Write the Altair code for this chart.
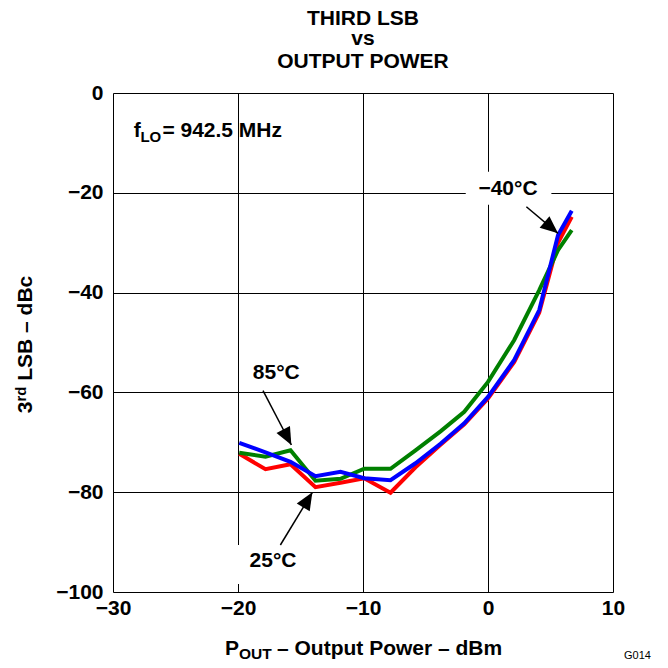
import altair as alt
import pandas as pd

FONT = "Liberation Sans"

# ---- data ----
pout = [-19.9, -17.8, -15.8, -13.8, -11.8, -9.9, -7.8, -5.8, -3.8, -1.9, 0.0, 2.1, 4.1, 5.6, 6.7]
lsb_25 = [-72.3, -75.4, -74.4, -79.0, -78.1, -77.2, -80.1, -75.0, -70.5, -66.4, -61.2, -53.9, -44.0, -30.0, -24.8]
lsb_85 = [-72.1, -72.9, -71.6, -77.7, -77.3, -75.3, -75.3, -71.6, -67.8, -63.9, -57.9, -49.5, -39.5, -31.5, -27.5]
lsb_m40 = [-70.1, -72.0, -73.9, -76.8, -75.9, -77.2, -77.6, -74.2, -70.3, -66.2, -60.9, -53.5, -43.5, -28.5, -23.6]

series_names = ["25°C", "85°C", "−40°C"]
series_values = [lsb_25, lsb_85, lsb_m40]
series_colors = ["#ff0000", "#008000", "#0000ff"]

x_ticks = [-30, -20, -10, 0, 10]
y_ticks = [-100, -80, -60, -40, -20, 0]

# annotation labels (data coordinates)
label_text = ["85°C", "25°C", "−40°C"]
label_x = [-16.94, -17.2, 1.6]
label_y = [-57.4, -95.05, -20.44]
arrow_x1 = [-18.0, -16.61, 3.07]
arrow_y1 = [-59.66, -90.58, -22.79]
arrow_x2 = [-15.73, -14.05, 5.6]
arrow_y2 = [-70.54, -80.02, -28.12]
arrow_angle = [152.4, 31.3, 130.1]
# white boxes behind labels
box_x1 = [-20.5, -1.78]
box_x2 = [-14.1, 5.07]
box_y1 = [-90.6, -15.8]
box_y2 = [-98.4, -22.4]

xs = alt.Scale(domain=[-30, 10], nice=False)
ys = alt.Scale(domain=[-100, 0], nice=False)
xaxis = alt.Axis(values=x_ticks, grid=True, gridColor="black", gridWidth=1, gridOpacity=1,
                 domain=False, ticks=False, labelFont=FONT, labelFontSize=21,
                 labelFontWeight="bold", labelColor="black", labelPadding=5,
                 labelFlush=False, labelOverlap=False, title=None)
yaxis = alt.Axis(values=y_ticks, grid=True, gridColor="black", gridWidth=1, gridOpacity=1,
                 domain=False, ticks=False, labelFont=FONT, labelFontSize=21,
                 labelFontWeight="bold", labelColor="black", labelPadding=10,
                 labelOverlap=False, title=None)

def X(field="x"):
    return alt.X(f"{field}:Q", scale=xs, axis=xaxis)

def Y(field="y"):
    return alt.Y(f"{field}:Q", scale=ys, axis=yaxis)

layers = []

# white label boxes
box_df = pd.DataFrame({"x": box_x1, "x2": box_x2, "y": box_y1, "y2": box_y2})
layers.append(alt.Chart(box_df).mark_rect(color="white", opacity=1).encode(
    x=X(), x2="x2:Q", y=Y(), y2="y2:Q"))

# curves
for name, vals, col in zip(series_names, series_values, series_colors):
    df = pd.DataFrame({"x": pout, "y": vals, "s": name})
    layers.append(alt.Chart(df).mark_line(color=col, strokeWidth=4).encode(x=X(), y=Y()))

# arrows
arr_df = pd.DataFrame({"x": arrow_x1, "y": arrow_y1, "x2": arrow_x2, "y2": arrow_y2})
layers.append(alt.Chart(arr_df).mark_rule(color="black", strokeWidth=1.5).encode(
    x=X(), y=Y(), x2="x2:Q", y2="y2:Q"))
head_path = "M0,0L-0.95,2.2L0.95,2.2Z"
for hx, hy, ang in zip(arrow_x2, arrow_y2, arrow_angle):
    hdf = pd.DataFrame({"x": [hx], "y": [hy]})
    layers.append(alt.Chart(hdf).mark_point(shape=head_path, filled=True, size=256, color="black",
                                             opacity=1, strokeWidth=0, angle=ang).encode(x=X(), y=Y()))

# labels in data coordinates
lab_df = pd.DataFrame({"x": label_x, "y": label_y, "t": label_text})
layers.append(alt.Chart(lab_df).mark_text(font=FONT, fontSize=21, fontWeight="bold", color="black",
                                          align="center", baseline="alphabetic").encode(
    x=X(), y=Y(), text="t:N"))

# f_LO annotation
flo_df = pd.DataFrame({"x": [-28.34, -27.81, -26.05], "y": [-8.88, -9.72, -8.88],
                       "t": ["f", "LO", "= 942.5 MHz"], "sz": [21, 15, 21]})
layers.append(alt.Chart(flo_df).mark_text(font=FONT, fontWeight="bold", color="black",
                                          align="left", baseline="alphabetic").encode(
    x=X(), y=Y(), text="t:N", size=alt.Size("sz:Q", scale=None, legend=None)))

# texts in pixel coordinates (relative to plot area)
def ptxt(text, px, py, size=21, align="left", angle=0, weight="bold"):
    return alt.Chart(pd.DataFrame({"t": [text]})).mark_text(
        font=FONT, fontSize=size, fontWeight=weight, color="black", align=align,
        baseline="alphabetic", angle=angle).encode(text="t:N", x=alt.value(px), y=alt.value(py))

# chart title
layers.append(ptxt("THIRD LSB", 250, -68.5, align="center"))
layers.append(ptxt("vs", 250, -48, align="center"))
layers.append(ptxt("OUTPUT POWER", 250, -24.7, align="center"))
# x title
layers.append(ptxt("P", 112, 562))
layers.append(ptxt("OUT", 126, 565.5, size=15.5))
layers.append(ptxt("– Output Power – dBm", 164, 562))
# y title (rotated)
layers.append(ptxt("3", -81.3, 320.3, angle=270))
layers.append(ptxt("rd", -87, 308.6, size=15, angle=270))
layers.append(ptxt("LSB – dBc", -81.3, 287.8, angle=270))
# figure code
layers.append(ptxt("G014", 511, 566, size=11, weight="normal"))

chart = alt.layer(*layers).properties(
    width=500, height=499,
    autosize=alt.AutoSizeParams(type="none"),
    padding={"left": 105, "top": 85, "right": 47, "bottom": 68},
).configure_view(stroke="black", strokeWidth=2.2).configure(background="white")

chart.save("out.html", embed_options={"renderer": "svg", "actions": False})
